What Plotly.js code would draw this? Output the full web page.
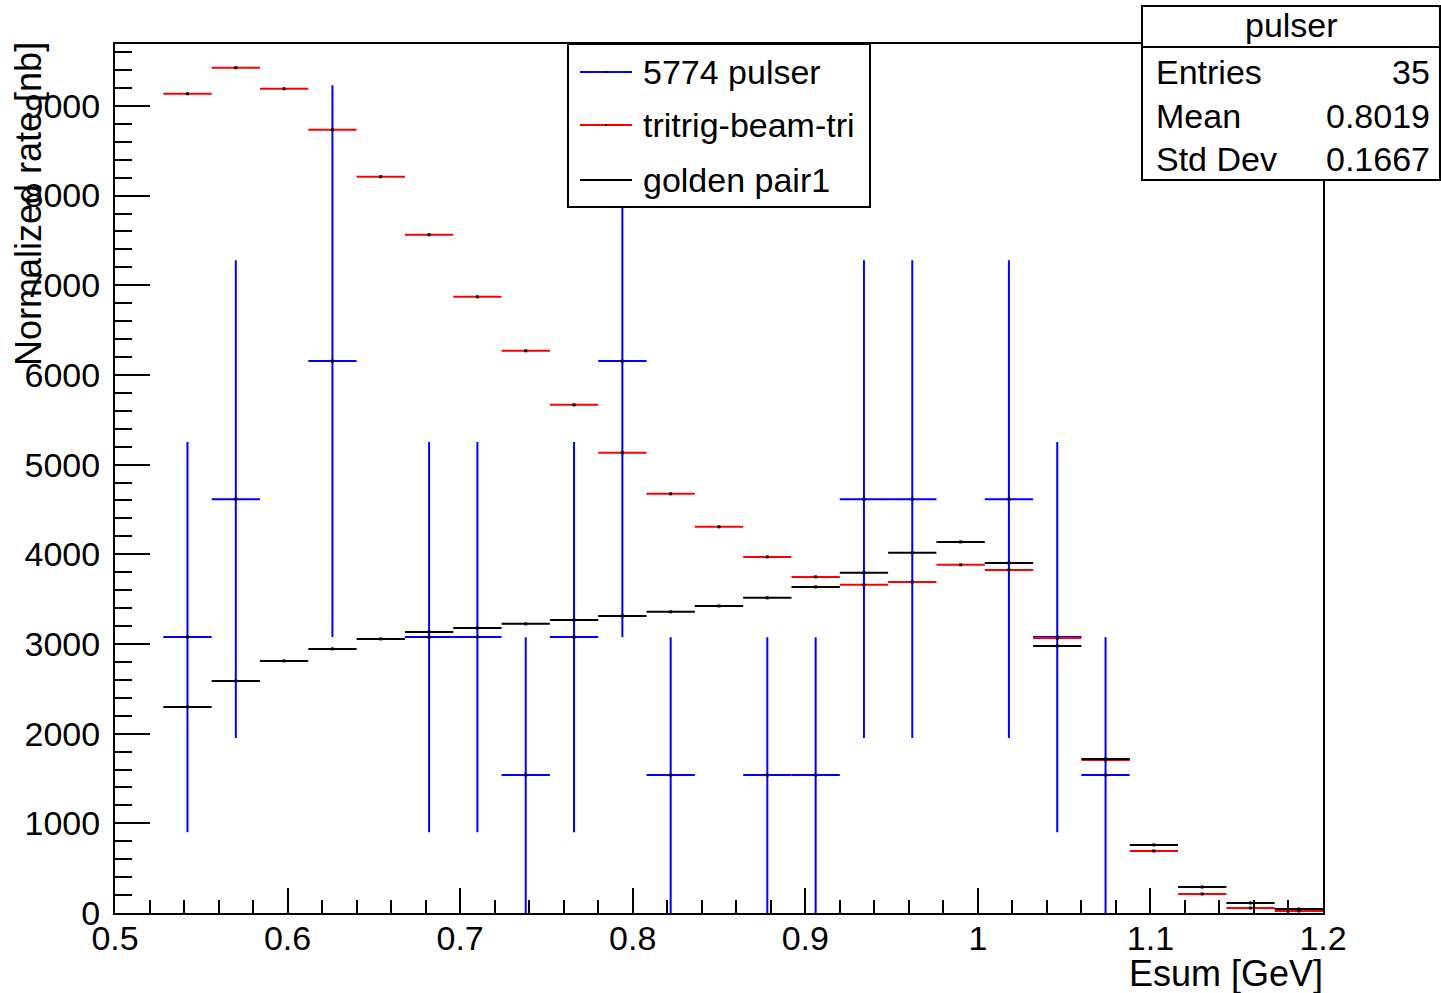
<!DOCTYPE html>
<html><head><meta charset="utf-8">
<script src="https://cdn.plot.ly/plotly-3.0.1.min.js"></script>
<style>body{margin:0;background:#fff}#c{width:1441px;height:993px}</style>
</head><body><div id="c"></div>
<script>
// Bin centers (GeV), 25 bins of 0.028 from 0.5 to 1.2
const binCenters = [0.542,0.570,0.598,0.626,0.654,0.682,0.710,0.738,0.766,0.794,0.822,0.850,0.878,0.906,0.934,0.962,0.990,1.018,1.046,1.074,1.102,1.130,1.158,1.186];
const tritrig = [9135,9425,9191,8734,8210,7563,6871,6269,5666,5131,4674,4306,3971,3748,3659,3692,3882,3826,3067,1707,692,212,56,22];
const golden  = [2298,2588,2811,2945,3056,3134,3179,3224,3268,3313,3358,3424,3514,3636,3793,4016,4138,3904,2978,1718,759,290,112,45];
// pulser: only non-empty bins
const pulserX = [0.542,0.570,0.626,0.682,0.710,0.738,0.766,0.794,0.822,0.878,0.906,0.934,0.962,1.018,1.046,1.074];
const pulserY = [3077,4615,6154,3077,3077,1538,3077,6154,1538,1538,1538,4615,4615,4615,3077,1538];
const pulserErr = [2176,2665,3077,2176,2176,1538,2176,3077,1538,1538,1538,2665,2665,2665,2176,1538];
const legendNames = ["5774 pulser","tritrig-beam-tri","golden pair1"];
const legendColors = ["#0000ff","#ff0000","#000000"];
const statsTitle = "pulser";
const statsLabels = ["Entries","Mean","Std Dev"];
const statsValues = ["35","0.8019","0.1667"];
const halfBin = 0.014;

const FONT = "Liberation Sans, Arial, sans-serif";
const FS = 34;
const W=1441,H=993,L=115,R=118,T=44,B=80;
const pw=W-L-R, ph=H-T-B;
const px=x=>(x-L)/pw, py=y=>1-(y-T)/ph;

function series(x,y,color,err){
  const t={x:x,y:y,type:'scatter',mode:'markers',showlegend:false,
    marker:{color:'#000',size:3,symbol:'square'},
    error_x:{type:'constant',value:halfBin,width:0,thickness:2,color:color}};
  if(err) t.error_y={type:'data',array:err,width:0,thickness:2,color:color};
  return t;
}
const data=[
  series(pulserX,pulserY,legendColors[0],pulserErr),
  series(binCenters,tritrig,legendColors[1]),
  series(binCenters,golden,legendColors[2])
];

const shapes=[], ann=[];
// legend
shapes.push({type:'rect',xref:'paper',yref:'paper',x0:px(568),x1:px(870),y0:py(44),y1:py(207),line:{color:'#000',width:2},fillcolor:'#fff'});
const legY=[72,125,180];
legendNames.forEach((n,i)=>{
  shapes.push({type:'line',xref:'paper',yref:'paper',x0:px(580),x1:px(632),y0:py(legY[i]),y1:py(legY[i]),line:{color:legendColors[i],width:2}});
  shapes.push({type:'rect',xref:'paper',yref:'paper',x0:px(605),x1:px(607),y0:py(legY[i]-1),y1:py(legY[i]+1),line:{width:0},fillcolor:'#000'});
  ann.push({xref:'paper',yref:'paper',x:px(641),y:py(legY[i]),xanchor:'left',yanchor:'middle',text:n,showarrow:false,font:{family:FONT,size:FS,color:'#000'}});
});
// stats box
shapes.push({type:'rect',xref:'paper',yref:'paper',x0:px(1142),x1:px(1440),y0:py(6),y1:py(180),line:{color:'#000',width:2},fillcolor:'#fff'});
shapes.push({type:'line',xref:'paper',yref:'paper',x0:px(1142),x1:px(1440),y0:py(47),y1:py(47),line:{color:'#000',width:2}});
ann.push({xref:'paper',yref:'paper',x:px(1291),y:py(25),xanchor:'center',yanchor:'middle',text:statsTitle,showarrow:false,font:{family:FONT,size:FS,color:'#000'}});
const stY=[72,116,159];
statsLabels.forEach((s,i)=>{
  ann.push({xref:'paper',yref:'paper',x:px(1154),y:py(stY[i]),xanchor:'left',yanchor:'middle',text:s,showarrow:false,font:{family:FONT,size:FS,color:'#000'}});
  ann.push({xref:'paper',yref:'paper',x:px(1432),y:py(stY[i]),xanchor:'right',yanchor:'middle',text:statsValues[i],showarrow:false,font:{family:FONT,size:FS,color:'#000'}});
});
// axis titles
ann.push({xref:'paper',yref:'paper',x:px(1325),y:py(973),xanchor:'right',yanchor:'middle',text:'Esum [GeV]',showarrow:false,font:{family:FONT,size:36,color:'#000'}});
ann.push({xref:'paper',yref:'paper',x:px(28),y:py(40),xanchor:'center',yanchor:'top',textangle:-90,text:'Normalized rate [nb]',showarrow:false,font:{family:FONT,size:36,color:'#000'}});

const layout={
  width:W,height:H,margin:{l:L,r:R,t:T,b:B,pad:0},
  paper_bgcolor:'#fff',plot_bgcolor:'#fff',
  font:{family:FONT,size:FS,color:'#000'},
  showlegend:false,
  xaxis:{range:[0.5,1.2],dtick:0.1,tick0:0.5,ticks:'inside',ticklen:25,tickwidth:2,tickcolor:'#000',
    showgrid:false,zeroline:false,showline:true,linecolor:'#000',linewidth:2,mirror:true,
    minor:{dtick:0.02,ticks:'inside',ticklen:13,tickwidth:2,tickcolor:'#000',showgrid:false},
    tickfont:{family:FONT,size:FS,color:'#000'},ticklabelstandoff:-6},
  yaxis:{range:[0,9690],dtick:1000,tick0:0,ticks:'inside',ticklen:35,tickwidth:2,tickcolor:'#000',
    showgrid:false,zeroline:false,showline:true,linecolor:'#000',linewidth:2,mirror:true,
    minor:{dtick:200,ticks:'inside',ticklen:17,tickwidth:2,tickcolor:'#000',showgrid:false},
    tickfont:{family:FONT,size:FS,color:'#000'},ticklabelstandoff:6},
  shapes:shapes,annotations:ann
};
Plotly.newPlot('c',data,layout,{displayModeBar:false,staticPlot:true});
</script></body></html>
